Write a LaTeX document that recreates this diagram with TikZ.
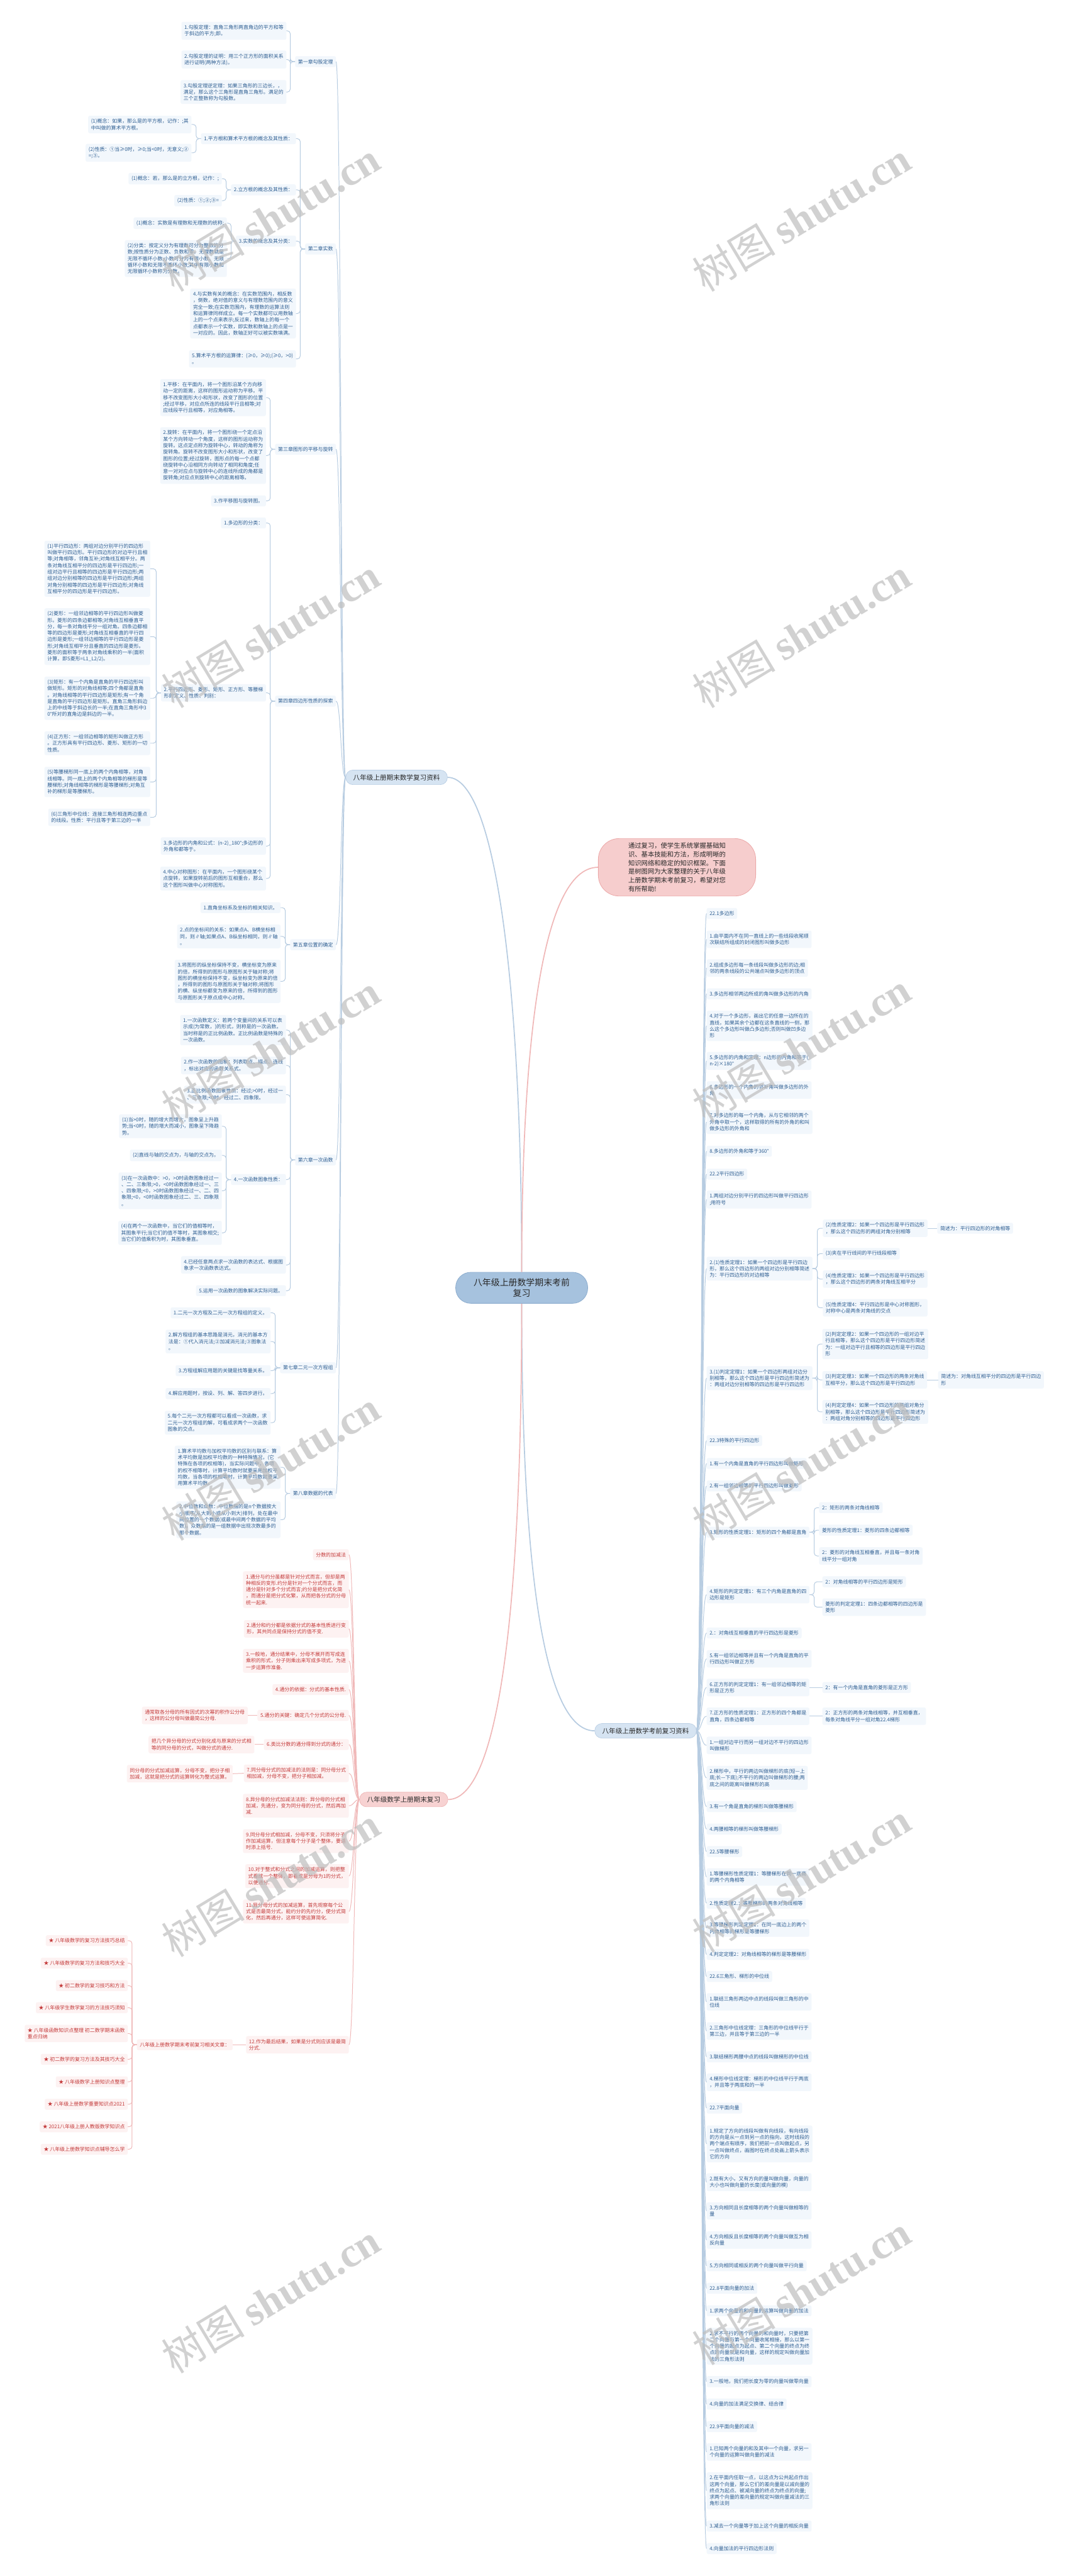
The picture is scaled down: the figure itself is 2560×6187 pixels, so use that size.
\documentclass[tikz,border=0pt]{standalone}
\usepackage{fontspec}
\setmainfont{Noto Sans CJK SC}
\newfontfamily\wmlat{Liberation Serif}
\usetikzlibrary{calc}
\definecolor{cTB}{RGB}{46,94,146}
\definecolor{cFB}{RGB}{242,247,252}
\definecolor{cLB}{RGB}{183,204,225}
\definecolor{cTP}{RGB}{196,58,58}
\definecolor{cFP}{RGB}{253,242,242}
\definecolor{cLP}{RGB}{240,184,184}
\definecolor{cCen}{RGB}{166,194,222}
\definecolor{cCenD}{RGB}{140,172,206}
\definecolor{cBrB}{RGB}{214,228,242}
\definecolor{cBrBD}{RGB}{186,207,229}
\definecolor{cBrP}{RGB}{247,210,210}
\definecolor{cBrPD}{RGB}{238,180,180}
\definecolor{cNote}{RGB}{246,205,205}
\definecolor{cNoteD}{RGB}{236,168,168}
\definecolor{cDark}{RGB}{40,40,40}
\definecolor{cWM}{RGB}{190,190,190}
\newcommand\fsleaf{\fontsize{12}{15.5}\selectfont}
\newcommand\fsbr{\fontsize{16}{20}\selectfont}
\newcommand\fscen{\fontsize{21}{27}\selectfont}
\newcommand\fsnote{\fontsize{15.6}{20.7}\selectfont}
\newcommand\fswm{\fontsize{100}{110}\selectfont}
\tikzset{
 lf/.style={rectangle, rounded corners=4, fill=cFB, text=cTB, font=\fsleaf, align=left, inner xsep=7, inner ysep=7.5},
 lfp/.style={lf, fill=cFP, text=cTP},
 lnode/.style={lf, anchor=east},
 rnode/.style={lf, anchor=west},
 pnode/.style={lfp, anchor=east},
 bk/.style={draw=cLB, line width=1.5, rounded corners=7},
 bkp/.style={draw=cLP, line width=1.5, rounded corners=7},
 cv/.style={draw=cLB, line width=1.5},
 cvp/.style={draw=cLP, line width=1.5},
 cvw/.style={draw=cLB, line width=2.6},
 cvpw/.style={draw=cLP, line width=2.6},
 branchb/.style={rectangle, rounded corners=17, fill=cBrB, draw=cBrBD, line width=1, text=cDark, font=\fsbr, inner xsep=18, inner ysep=10},
 branchp/.style={branchb, fill=cBrP, draw=cBrPD},
 wm/.style={text=cWM, opacity=0.7, font=\fswm, inner sep=0},
}
\newcommand\lbk[2]{\draw[bk] (#1.west) -- ++(-11.5,0) |- (#2.east);}
\newcommand\rbk[2]{\draw[bk] (#1.east) -- ++(11.5,0) |- (#2.west);}
\newcommand\lbkp[2]{\draw[bkp] (#1.west) -- ++(-11.5,0) |- (#2.east);}
\begin{document}
\begin{tikzpicture}[x=1pt,y=-1pt]
\useasboundingbox (0,0) rectangle (2560,6187);
\fill[white] (0,0) rectangle (2560,6187);

% ===== center, note, branches =====
\node[rectangle, rounded corners=36, fill=cCen, draw=cCenD, line width=1.2, text=cDark, font=\fscen, align=center, inner xsep=43, inner ysep=14] (C) at (1253,3093) {八年级上册数学期末考前\\复习};
\node[rectangle, rounded corners=50, fill=cNote, draw=cNoteD, line width=1.2, text=cDark, font=\fsnote, align=left, inner xsep=72, inner ysep=10] (N) at (1626,2083) {通过复习，使学生系统掌握基础知\\识、基本技能和方法，形成明晰的\\知识网络和稳定的知识框架。下面\\是树图网为大家整理的关于八年级\\上册数学期末考前复习，希望对您\\有所帮助!};
\node[branchb, anchor=west] (B1) at (830,1867) {八年级上册期末数学复习资料};
\node[branchb, anchor=east] (B2) at (1673,4157) {八年级上册数学考前复习资料};
\node[branchp, anchor=west] (B3) at (863,4322) {八年级数学上册期末复习};

% ===== left top: chapters =====
\node[lnode] (ch1) at (807,148) {第一章勾股定理};
\node[lnode] (a1) at (688,74) {1.勾股定理：直角三角形两直角边的平方和等\\于斜边的平方;即。};
\node[lnode] (a2) at (688,143) {2.勾股定理的证明：用三个正方形的面积关系\\进行证明(两种方法)。};
\node[lnode] (a3) at (688,221) {3.勾股定理逆定理：如果三角形的三边长，，\\满足，那么这个三角形是直角三角形。满足的\\三个正整数称为勾股数。};

\node[lnode] (ch2) at (807,598) {第二章实数};
\node[lnode] (b1) at (711,333) {1.平方根和算术平方根的概念及其性质：};
\node[lnode] (b1a) at (460,299) {(1)概念：如果，那么是的平方根，记作：;其\\中叫做的算术平方根。};
\node[lnode] (b1b) at (460,367) {(2)性质：①当≥0时，≥0;当<0时，无意义;②\\=;③。};
\node[lnode] (b2) at (711,456) {2.立方根的概念及其性质：};
\node[lnode] (b2a) at (533,429) {(1)概念：若，那么是的立方根，记作：;};
\node[lnode] (b2b) at (533,482) {(2)性质：①;②;③=};
\node[lnode] (b3) at (711,579) {3.实数的概念及其分类：};
\node[lnode] (b3a) at (545,536) {(1)概念：实数是有理数和无理数的统称;};
\node[lnode] (b3b) at (545,621) {(2)分类：按定义分为有理数可分为整数的分\\数;按性质分为正数、负数和零。无理数就是\\无限不循环小数;小数可分为有限小数、无限\\循环小数和无限不循环小数;其中有限小数和\\无限循环小数称为分数。};
\node[lnode] (b4) at (711,753) {4.与实数有关的概念：在实数范围内，相反数\\，倒数，绝对值的意义与有理数范围内的意义\\完全一致;在实数范围内，有理数的运算法则\\和运算律同样成立。每一个实数都可以用数轴\\上的一个点来表示;反过来，数轴上的每一个\\点都表示一个实数，即实数和数轴上的点是一\\一对应的。因此，数轴正好可以被实数填满。};
\node[lnode] (b5) at (711,862) {5.算术平方根的运算律：(≥0，≥0);(≥0，>0)\\。};

\node[lnode] (ch3) at (807,1079) {第三章图形的平移与旋转};
\node[lnode] (c1) at (639,955) {1.平移：在平面内，将一个图形沿某个方向移\\动一定的距离，这样的图形运动称为平移。平\\移不改变图形大小和形状，改变了图形的位置\\;经过平移，对应点所连的线段平行且相等;对\\应线段平行且相等，对应角相等。};
\node[lnode] (c2) at (639,1094) {2.旋转：在平面内，将一个图形绕一个定点沿\\某个方向转动一个角度，这样的图形运动称为\\旋转。这点定点称为旋转中心，转动的角称为\\旋转角。旋转不改变图形大小和形状，改变了\\图形的位置;经过旋转，图形点的每一个点都\\绕旋转中心沿相同方向转动了相同和角度;任\\意一对对应点与旋转中心的连线所成的角都是\\旋转角;对应点到旋转中心的距离相等。};
\node[lnode] (c3) at (639,1203) {3.作平移图与旋转图。};

\node[lnode] (ch4) at (807,1684) {第四章四边形性质的探索};
\node[lnode] (d1) at (639,1256) {1.多边形的分类：};
\node[lnode] (d2) at (639,1664) {2.平行四边形、菱形、矩形、正方形、等腰梯\\形的定义、性质、判别：};
\node[lnode] (d2a) at (361,1366) {(1)平行四边形：两组对边分别平行的四边形\\叫做平行四边形。平行四边形的对边平行且相\\等;对角相等，邻角互补;对角线互相平分。两\\条对角线互相平分的四边形是平行四边形;一\\组对边平行且相等的四边形是平行四边形;两\\组对边分别相等的四边形是平行四边形;两组\\对角分别相等的四边形是平行四边形;对角线\\互相平分的四边形是平行四边形。};
\node[lnode] (d2b) at (361,1529) {(2)菱形：一组邻边相等的平行四边形叫做菱\\形。菱形的四条边都相等;对角线互相垂直平\\分，每一条对角线平分一组对角。四条边都相\\等的四边形是菱形;对角线互相垂直的平行四\\边形是菱形;一组邻边相等的平行四边形是菱\\形;对角线互相平分且垂直的四边形是菱形。\\菱形的面积等于两条对角线乘积的一半(面积\\计算，即S菱形=L1\_L2/2)。};
\node[lnode] (d2c) at (361,1677) {(3)矩形：有一个内角是直角的平行四边形叫\\做矩形。矩形的对角线相等;四个角都是直角\\。对角线相等的平行四边形是矩形;有一个角\\是直角的平行四边形是矩形。直角三角形斜边\\上的中线等于斜边长的一半;在直角三角形中3\\0°所对的直角边是斜边的一半。};
\node[lnode] (d2d) at (361,1785) {(4)正方形：一组邻边相等的矩形叫做正方形\\。正方形具有平行四边形、菱形、矩形的一切\\性质。};
\node[lnode] (d2e) at (361,1878) {(5)等腰梯形同一底上的两个内角相等，对角\\线相等。同一底上的两个内角相等的梯形是等\\腰梯形;对角线相等的梯形是等腰梯形;对角互\\补的梯形是等腰梯形。};
\node[lnode] (d2f) at (361,1963) {(6)三角形中位线：连接三角形相连两边重点\\的线段。性质：平行且等于第三边的一半};
\node[lnode] (d3) at (639,2032) {3.多边形的内角和公式：(n-2)\_180°;多边形的\\外角和都等于。};
\node[lnode] (d4) at (639,2110) {4.中心对称图形：在平面内，一个图形绕某个\\点旋转，如果旋转前后的图形互相重合，那么\\这个图形叫做中心对称图形。};

\node[lnode] (ch5) at (807,2269) {第五章位置的确定};
\node[lnode] (e1) at (674,2180) {1.直角坐标系及坐标的相关知识。};
\node[lnode] (e2) at (674,2249) {2.点的坐标间的关系：如果点A、B横坐标相\\同，则∥轴;如果点A、B纵坐标相同，则∥轴\\。};
\node[lnode] (e3) at (674,2357) {3.将图形的纵坐标保持不变，横坐标变为原来\\的倍，所得到的图形与原图形关于轴对称;将\\图形的横坐标保持不变，纵坐标变为原来的倍\\，所得到的图形与原图形关于轴对称;将图形\\的横、纵坐标都变为原来的倍，所得到的图形\\与原图形关于原点成中心对称。};

\node[lnode] (ch6) at (807,2786) {第六章一次函数};
\node[lnode] (f1) at (687,2474) {1.一次函数定义：若两个变量间的关系可以表\\示成(为常数，)的形式，则称是的一次函数。\\当时称是的正比例函数。正比例函数是特殊的\\一次函数。};
\node[lnode] (f2) at (687,2559) {2.作一次函数的图象：列表取点、描点、连线\\，标出对应的函数关系式。};
\node[lnode] (f3) at (687,2629) {3.正比例函数图象性质：经过;>0时，经过一\\、三象限;<0时，经过二、四象限。};
\node[lnode] (f4) at (687,2833) {4.一次函数图象性质：};
\node[lnode] (f4a) at (533,2705) {(1)当>0时，随的增大而增大，图象呈上升趋\\势;当<0时，随的增大而减小，图象呈下降趋\\势。};
\node[lnode] (f4b) at (533,2775) {(2)直线与轴的交点为，与轴的交点为。};
\node[lnode] (f4c) at (533,2860) {(3)在一次函数中：>0，>0时函数图象经过一\\、二、三象限;>0，<0时函数图象经过一、三\\、四象限;<0，>0时函数图象经过一、二、四\\象限;<0，<0时函数图象经过二、三、四象限\\。};
\node[lnode] (f4d) at (533,2961) {(4)在两个一次函数中，当它们的值相等时，\\其图象平行;当它们的值不等时，其图象相交;\\当它们的值乘积为时，其图象垂直。};
\node[lnode] (f5) at (687,3038) {4.已经任意两点求一次函数的表达式、根据图\\象求一次函数表达式。};
\node[lnode] (f6) at (687,3100) {5.运用一次函数的图象解决实际问题。};

\node[lnode] (ch7) at (807,3285) {第七章二元一次方程组};
\node[lnode] (g1) at (650,3153) {1.二元一次方程及二元一次方程组的定义。};
\node[lnode] (g2) at (650,3222) {2.解方程组的基本思路是消元，消元的基本方\\法是：①代入消元法;②加减消元法;③图象法\\。};
\node[lnode] (g3) at (650,3292) {3.方程组解应用题的关键是找等量关系。};
\node[lnode] (g4) at (650,3347) {4.解应用题时，按设、列、解、答四步进行。};
\node[lnode] (g5) at (650,3417) {5.每个二元一次方程都可以看成一次函数，求\\二元一次方程组的解，可看成求两个一次函数\\图象的交点。};

\node[lnode] (ch8) at (807,3587) {第八章数据的代表};
\node[lnode] (h1) at (674,3524) {1.算术平均数与加权平均数的区别与联系：算\\术平均数是加权平均数的一种特殊情况，(它\\特殊在各项的权相等)，当实际问题中，各项\\的权不相等时，计算平均数时就要采用加权平\\均数，当各项的权相等时，计算平均数就要采\\用算术平均数。};
\node[lnode] (h2) at (674,3650) {2.中位数和众数：中位数指的是n个数据按大\\小顺序(从大到小或从小到大)排列，处在最中\\间位置的一个数据(或最中间两个数据的平均\\数)。众数指的是一组数据中出现次数最多的\\那个数据。};

% ===== left bottom (pink) =====
\node[pnode] (p0) at (838,3734) {分数的加减法};
\node[pnode] (p1) at (838,3818) {1.通分与约分虽都是针对分式而言，但却是两\\种相反的变形.约分是针对一个分式而言，而\\通分是针对多个分式而言;约分是把分式化简\\，而通分是把分式化繁，从而把各分式的分母\\统一起来.};
\node[pnode] (p2) at (838,3912) {2.通分和约分都是依据分式的基本性质进行变\\形，其共同点是保持分式的值不变.};
\node[pnode] (p3) at (838,3989) {3.一般地，通分结果中，分母不展开而写成连\\乘积的形式，分子则乘出来写成多项式，为进\\一步运算作准备.};
\node[pnode] (p4) at (838,4058) {4.通分的依据：分式的基本性质.};
\node[pnode] (p5) at (838,4120) {5.通分的关键：确定几个分式的公分母.};
\node[pnode] (p5a) at (595,4120) {通常取各分母的所有因式的次幂的积作公分母\\，这样的公分母叫做最简公分母.};
\node[pnode] (p6) at (838,4190) {6.类比分数的通分得到分式的通分：};
\node[pnode] (p6a) at (611,4190) {把几个异分母的分式分别化成与原来的分式相\\等的同分母的分式，叫做分式的通分.};
\node[pnode] (p7) at (838,4259) {7.同分母分式的加减法的法则是：同分母分式\\相加减，分母不变，把分子相加减。};
\node[pnode] (p7a) at (559,4260) {同分母的分式加减运算，分母不变，把分子相\\加减，这就是把分式的运算转化为整式运算。};
\node[pnode] (p8) at (838,4337) {8.异分母的分式加减法法则：异分母的分式相\\加减，先通分，变为同分母的分式，然后再加\\减.};
\node[pnode] (p9) at (838,4422) {9.同分母分式相加减，分母不变，只须将分子\\作加减运算，但注意每个分子是个整体，要适\\时添上括号.};
\node[pnode] (p10) at (838,4506) {10.对于整式和分式之间的加减运算，则把整\\式看成一个整体，即看成是分母为1的分式，\\以便通分.};
\node[pnode] (p11) at (838,4591) {11.异分母分式的加减运算，首先观察每个公\\式是否最简分式，能约分的先约分，使分式简\\化，然后再通分，这样可使运算简化.};
\node[pnode] (p12) at (838,4911) {12.作为最后结果，如果是分式则应该是最简\\分式.};
\node[pnode] (p12a) at (559,4911) {八年级上册数学期末考前复习相关文章：};
\node[pnode] (s1) at (307,4661) {★ 八年级数学的复习方法技巧总结};
\node[pnode] (s2) at (307,4715) {★ 八年级数学的复习方法和技巧大全};
\node[pnode] (s3) at (307,4769) {★ 初二数学的复习技巧和方法};
\node[pnode] (s4) at (307,4822) {★ 八年级学生数学复习的方法技巧须知};
\node[pnode] (s5) at (307,4884) {★ 八年级函数知识点整理 初二数学期末函数\\重点归纳};
\node[pnode] (s6) at (307,4946) {★ 初二数学的复习方法及其技巧大全};
\node[pnode] (s7) at (307,5000) {★ 八年级数学上册知识点整理};
\node[pnode] (s8) at (307,5054) {★ 八年级上册数学重要知识点2021};
\node[pnode] (s9) at (307,5108) {★ 2021八年级上册人教版数学知识点};
\node[pnode] (s10) at (307,5162) {★ 八年级上册数学知识点辅导怎么学};

% ===== right column =====
\node[rnode] (r1) at (1697,2194) {22.1多边形};
\node[rnode] (r2) at (1697,2256) {1.由平面内不在同一直线上的一些线段收尾顺\\次联结所组成的封闭图形叫做多边形};
\node[rnode] (r3) at (1697,2325) {2.组成多边形每一条线段叫做多边形的边;相\\邻的两条线段的公共端点叫做多边形的顶点};
\node[rnode] (r4) at (1697,2387) {3.多边形相邻两边所成的角叫做多边形的内角};
\node[rnode] (r5) at (1697,2464) {4.对于一个多边形，画出它的任意一边所在的\\直线，如果其余个边都在这条直线的一侧，那\\么这个多边形叫做凸多边形;否则叫做凹多边\\形};
\node[rnode] (r6) at (1697,2548) {5.多边形的内角和定理：n边形的内角和等于(\\n-2)×180°};
\node[rnode] (r7) at (1697,2618) {6.多边形的一个内角的邻补角叫做多边形的外\\角};
\node[rnode] (r8) at (1697,2695) {7.对多边形的每一个内角，从与它相邻的两个\\外角中取一个，这样取得的所有的外角的和叫\\做多边形的外角和};
\node[rnode] (r9) at (1697,2765) {8.多边形的外角和等于360°};
\node[rnode] (r10) at (1697,2820) {22.2平行四边形};
\node[rnode] (r11) at (1697,2881) {1.两组对边分别平行的四边形叫做平行四边形\\;用符号};
\node[rnode] (r12) at (1697,3047) {2.(1)性质定理1：如果一个四边形是平行四边\\形，那么这个四边形的两组对边分别相等简述\\为：平行四边形的对边相等};
\node[rnode] (r12a) at (1976,2950) {(2)性质定理2：如果一个四边形是平行四边形\\，那么这个四边形的两组对角分别相等};
\node[rnode] (r12a1) at (2251,2950) {简述为：平行四边形的对角相等};
\node[rnode] (r12b) at (1976,3011) {(3)夹在平行线间的平行线段相等};
\node[rnode] (r12c) at (1976,3072) {(4)性质定理3：如果一个四边形是平行四边形\\，那么这个四边形的两条对角线互相平分};
\node[rnode] (r12d) at (1976,3141) {(5)性质定理4：平行四边形是中心对称图形，\\对称中心是两条对角线的交点};
\node[rnode] (r13) at (1697,3310) {3.(1)判定定理1：如果一个四边形两组对边分\\别相等，那么这个四边形是平行四边形简述为\\：两组对边分别相等的四边形是平行四边形};
\node[rnode] (r13a) at (1975,3228) {(2)判定定理2：如果一个四边形的一组对边平\\行且相等，那么这个四边形是平行四边形简述\\为：一组对边平行且相等的四边形是平行四边\\形};
\node[rnode] (r13b) at (1975,3314) {(3)判定定理3：如果一个四边形的两条对角线\\互相平分，那么这个四边形是平行四边形};
\node[rnode] (r13b1) at (2253,3314) {简述为：对角线互相平分的四边形是平行四边\\形};
\node[rnode] (r13c) at (1975,3391) {(4)判定定理4：如果一个四边形的两组对角分\\别相等，那么这个四边形是平行四边形简述为\\：两组对角分别相等的四边形是平行四边形};
\node[rnode] (r14) at (1697,3460) {22.3特殊的平行四边形};
\node[rnode] (r15) at (1697,3515) {1.有一个内角是直角的平行四边形叫做矩形};
\node[rnode] (r16) at (1697,3569) {2.有一组邻边相等的平行四边形叫做菱形};
\node[rnode] (r17) at (1697,3680) {3.矩形的性质定理1：矩形的四个角都是直角};
\node[rnode] (r17a) at (1967,3621) {2：矩形的两条对角线相等};
\node[rnode] (r17b) at (1967,3675) {菱形的性质定理1：菱形的四条边都相等};
\node[rnode] (r17c) at (1967,3737) {2：菱形的对角线互相垂直，并且每一条对角\\线平分一组对角};
\node[rnode] (r18) at (1697,3830) {4.矩形的判定定理1：有三个内角是直角的四\\边形是矩形};
\node[rnode] (r18a) at (1975,3799) {2：对角线相等的平行四边形是矩形};
\node[rnode] (r18b) at (1975,3860) {菱形的判定定理1：四条边都相等的四边形是\\菱形};
\node[rnode] (r19) at (1697,3922) {2.：对角线互相垂直的平行四边形是菱形};
\node[rnode] (r20) at (1697,3984) {5.有一组邻边相等并且有一个内角是直角的平\\行四边形叫做正方形};
\node[rnode] (r21) at (1697,4053) {6.正方形的判定定理1：有一组邻边相等的矩\\形是正方形};
\node[rnode] (r21a) at (1975,4053) {2：有一个内角是直角的菱形是正方形};
\node[rnode] (r22) at (1697,4122) {7.正方形的性质定理1：正方形的四个角都是\\直角，四条边都相等};
\node[rnode] (r22a) at (1975,4122) {2：正方形的两条对角线相等，并互相垂直，\\每条对角线平分一组对角22.4梯形};
\node[rnode] (r23) at (1697,4192) {1.一组对边平行而另一组对边不平行的四边形\\叫做梯形};
\node[rnode] (r24) at (1697,4270) {2.梯形中，平行的两边叫做梯形的底(短—上\\底;长—下底);不平行的两边叫做梯形的腰;两\\底之间的距离叫做梯形的高};
\node[rnode] (r25) at (1697,4339) {3.有一个角是直角的梯形叫做等腰梯形};
\node[rnode] (r26) at (1697,4393) {4.两腰相等的梯形叫做等腰梯形};
\node[rnode] (r27) at (1697,4447) {22.5等腰梯形};
\node[rnode] (r28) at (1697,4508) {1.等腰梯形性质定理1：等腰梯形在同一底商\\的两个内角相等};
\node[rnode] (r29) at (1697,4571) {2.性质定理2.：等腰梯形的两条对角线相等};
\node[rnode] (r30) at (1697,4631) {3.等腰梯形判定定理1：在同一底边上的两个\\内角相等的梯形是等腰梯形};
\node[rnode] (r31) at (1697,4694) {4.判定定理2：对角线相等的梯形是等腰梯形};
\node[rnode] (r32) at (1697,4747) {22.6三角形、梯形的中位线};
\node[rnode] (r33) at (1697,4808) {1.联结三角形两边中点的线段叫做三角形的中\\位线};
\node[rnode] (r34) at (1697,4878) {2.三角形中位线定理：三角形的中位线平行于\\第三边，并且等于第三边的一半};
\node[rnode] (r35) at (1697,4940) {3.联结梯形两腰中点的线段叫做梯形的中位线};
\node[rnode] (r36) at (1697,5001) {4.梯形中位线定理：梯形的中位线平行于两底\\，并且等于两底和的一半};
\node[rnode] (r37) at (1697,5063) {22.7平面向量};
\node[rnode] (r38) at (1697,5149) {1.规定了方向的线段叫做有向线段，有向线段\\的方向是从一点到另一点的指向，这时线段的\\两个端点有顺序，我们把前一点叫做起点，另\\一点叫做终点，画图时在终点处画上箭头表示\\它的方向};
\node[rnode] (r39) at (1697,5241) {2.既有大小。又有方向的量叫做向量，向量的\\大小也叫做向量的长度(或向量的模)};
\node[rnode] (r40) at (1697,5310) {3.方向相同且长度相等的两个向量叫做相等的\\量};
\node[rnode] (r41) at (1697,5380) {4.方向相反且长度相等的两个向量叫做互为相\\反向量};
\node[rnode] (r42) at (1697,5442) {5.方向相同或相反的两个向量叫做平行向量};
\node[rnode] (r43) at (1697,5496) {22.8平面向量的加法};
\node[rnode] (r44) at (1697,5550) {1.求两个向量的和向量的运算叫做向量的加法};
\node[rnode] (r45) at (1697,5635) {2.求不平行的两个向量的和向量时，只要把第\\二个向量与第一个向量收尾相接，那么以第一\\个向量的起点为起点、第二个向量的终点为终\\点的向量就是和向量，这样的规定叫做向量加\\法的三角形法则};
\node[rnode] (r46) at (1697,5720) {3.一般地，我们把长度为零的向量叫做零向量};
\node[rnode] (r47) at (1697,5774) {4.向量的加法满足交换律、结合律};
\node[rnode] (r48) at (1697,5828) {22.9平面向量的减法};
\node[rnode] (r49) at (1697,5889) {1.已知两个向量的和及其中一个向量，求另一\\个向量的运算叫做向量的减法};
\node[rnode] (r50) at (1697,5982) {2.在平面内任取一点，以这点为公共起点作出\\这两个向量，那么它们的差向量是以减向量的\\终点为起点、被减向量的终点为终点的向量;\\求两个向量的差向量的规定叫做向量减法的三\\角形法则};
\node[rnode] (r51) at (1697,6067) {3.减去一个向量等于加上这个向量的相反向量};
\node[rnode] (r52) at (1697,6121) {4.向量加法的平行四边形法则};

% ===== connectors =====
\draw[cvw] (C.north) .. controls ($(C.north)+(0,-650)$) and ($(B1.east)+(120,0)$) .. (B1.east);
\draw[cvpw] (C.north) .. controls ($(C.north)+(0,-520)$) and ($(N.west)+(-140,0)$) .. (N.west);
\draw[cvw] (C.south) .. controls ($(C.south)+(0,650)$) and ($(B2.west)+(-120,0)$) .. (B2.west);
\draw[cvpw] (C.south) .. controls ($(C.south)+(0,750)$) and ($(B3.east)+(120,0)$) .. (B3.east);

\foreach \i in {1,...,8}{\draw[cv] (B1.west) .. controls +(-12,0) and +(12,0) .. (ch\i.east);}
\foreach \i in {0,...,12}{\draw[cvp] (B3.west) .. controls +(-12,0) and +(12,0) .. (p\i.east);}
\foreach \i in {1,...,52}{\draw[cv] (B2.east) .. controls +(12,0) and +(-12,0) .. (r\i.west);}

\foreach \c in {a1,a2,a3}{\lbk{ch1}{\c}}
\foreach \c in {b1,b2,b3,b4,b5}{\lbk{ch2}{\c}}
\foreach \c in {b1a,b1b}{\lbk{b1}{\c}}
\foreach \c in {b2a,b2b}{\lbk{b2}{\c}}
\foreach \c in {b3a,b3b}{\lbk{b3}{\c}}
\foreach \c in {c1,c2,c3}{\lbk{ch3}{\c}}
\foreach \c in {d1,d2,d3,d4}{\lbk{ch4}{\c}}
\foreach \c in {d2a,d2b,d2c,d2d,d2e,d2f}{\lbk{d2}{\c}}
\foreach \c in {e1,e2,e3}{\lbk{ch5}{\c}}
\foreach \c in {f1,f2,f3,f4,f5,f6}{\lbk{ch6}{\c}}
\foreach \c in {f4a,f4b,f4c,f4d}{\lbk{f4}{\c}}
\foreach \c in {g1,g2,g3,g4,g5}{\lbk{ch7}{\c}}
\foreach \c in {h1,h2}{\lbk{ch8}{\c}}

\draw[bkp] (p5.west) -- (p5a.east);
\draw[bkp] (p6.west) -- (p6a.east);
\draw[bkp] (p7.west) -- (p7a.east);
\draw[bkp] (p12.west) -- (p12a.east);
\foreach \i in {1,...,10}{\lbkp{p12a}{s\i}}

\foreach \c in {r12a,r12b,r12c,r12d}{\rbk{r12}{\c}}
\draw[bk] (r12a.east) -- (r12a1.west);
\foreach \c in {r13a,r13b,r13c}{\rbk{r13}{\c}}
\draw[bk] (r13b.east) -- (r13b1.west);
\foreach \c in {r17a,r17b,r17c}{\rbk{r17}{\c}}
\foreach \c in {r18a,r18b}{\rbk{r18}{\c}}
\draw[bk] (r21.east) -- (r21a.west);
\draw[bk] (r22.east) -- (r22a.west);

% ===== watermarks =====
\foreach \wx/\wy in {650/520,1925/520,650/1520,1925/1520,650/2520,1925/2515,650/3520,1925/3520,650/4520,1925/4510,650/5520,1925/5500}{
  \node[wm, rotate=31] (wm) at (\wx,\wy) {树图\hspace{20pt}{\wmlat\bfseries shutu.cn}};
}
\end{tikzpicture}
\end{document}
